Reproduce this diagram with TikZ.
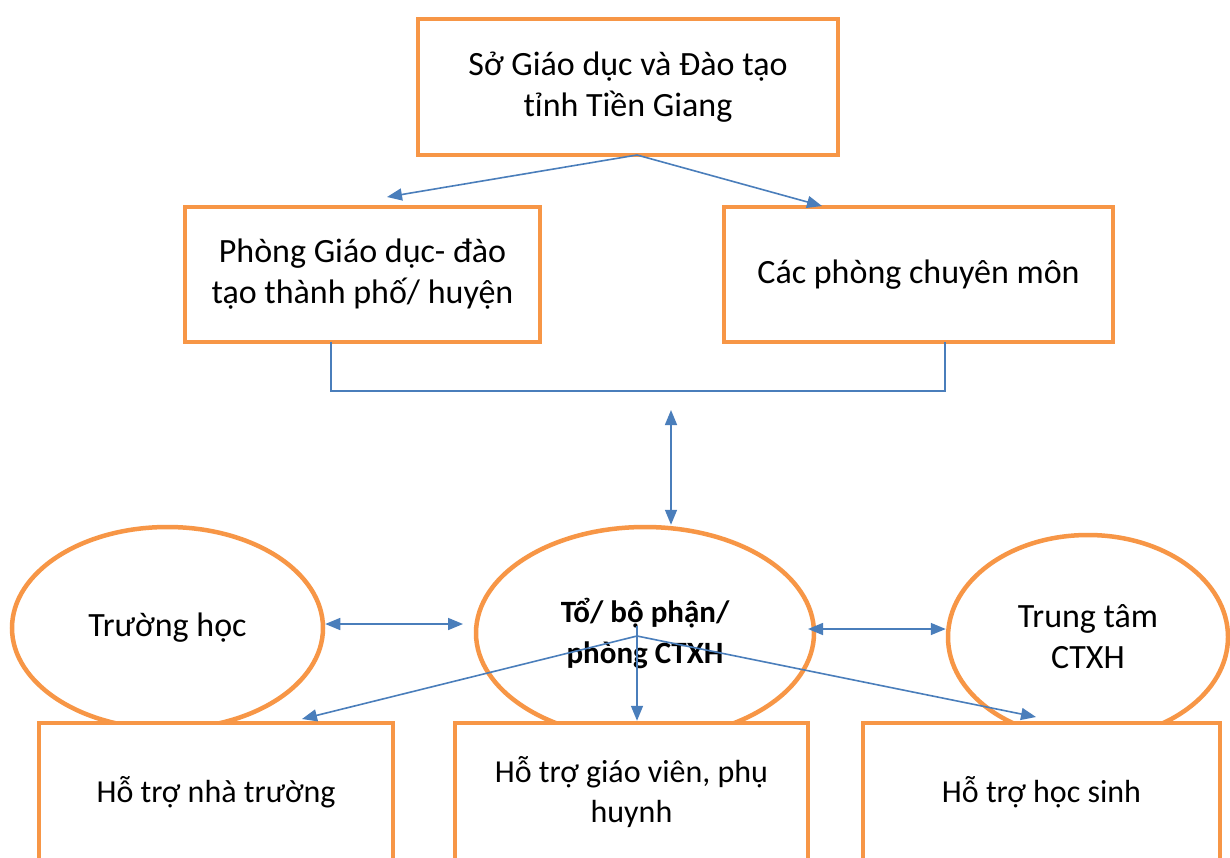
\documentclass[tikz,border=0pt]{standalone}
\usepackage{fontspec}
\setmainfont{Carlito}
\usetikzlibrary{arrows.meta,shapes.geometric}
\definecolor{boxorange}{HTML}{F79646}
\definecolor{linkblue}{HTML}{4A7EBB}
\tikzset{
  box/.style={draw=boxorange,line width=4.5pt,fill=white,rectangle,align=center,inner sep=0pt},
  oval/.style={draw=boxorange,line width=4.5pt,fill=white,ellipse,align=center,inner sep=0pt},
  link/.style={draw=linkblue,line width=1.6pt},
  tip/.style={-{Triangle[length=15pt,width=12pt]}},
  bitip/.style={{Triangle[length=15pt,width=12pt]}-{Triangle[length=15pt,width=12pt]}},
  bigtext/.style={font=\fontsize{34}{41}\selectfont},
  smalltext/.style={font=\fontsize{32}{40}\selectfont}
}
\begin{document}
\begin{tikzpicture}[x=1pt,y=-1pt]
        \clip (0,0) rectangle (1230,857);
        \fill[white] (0,0) rectangle (1230,857);

        % cap tinh va cap huyen
        \node[box,bigtext,minimum width=420pt,minimum height=136pt] (sgd) at (628,87)
         {Sở Giáo dục và Đào tạo\\tỉnh Tiền Giang};
        \node[box,bigtext,minimum width=355pt,minimum height=135pt] (pgd) at (362.5,274.5)
         {Phòng Giáo dục- đào\\tạo thành phố/ huyện};
        \node[box,bigtext,minimum width=389pt,minimum height=135pt] (pcm) at (918.5,274.5)
         {Các phòng chuyên môn};

        \coordinate (sgdfoot) at (637,155);
        \coordinate (pgdtip) at (387,197);
        \coordinate (pcmtip) at (822,206);
        \draw[link,tip] (sgdfoot) -- (pgdtip);
        \draw[link,tip] (sgdfoot) -- (pcmtip);

        \coordinate (pgdleg) at (331,342);
        \coordinate (pcmleg) at (945,342);
        \draw[link] (pgdleg) -- (331,391) -- (945,391) -- (pcmleg);

        % cap truong
        \node[oval,bigtext,minimum width=311pt,minimum height=202pt] (truong) at (167.5,628)
         {Trường học};
        \node[oval,font=\fontsize{31}{41}\selectfont\bfseries,minimum width=338pt,minimum height=212pt] (ctxh) at (645,633)
         {Tổ/ bộ phận/\\phòng CTXH};
        \node[oval,bigtext,minimum width=280pt,minimum height=204pt] (ttam) at (1088,637)
         {Trung tâm\\CTXH};

        \coordinate (bracketmid) at (671,410);
        \draw[link,bitip] (bracketmid) -- (ctxh.north -| bracketmid);
        \draw[link,bitip] (truong.east |- 0,624) -- (463,624);
        \draw[link,bitip] (808,629) -- (ttam.west |- 0,629);

        \node[box,smalltext,minimum width=354pt,minimum height=138pt] (htnt) at (216,792)
         {Hỗ trợ nhà trường};
        \node[box,smalltext,minimum width=353pt,minimum height=138pt] (htgv) at (631.5,792)
         {Hỗ trợ giáo viên, phụ\\huynh};
        \node[box,smalltext,minimum width=357pt,minimum height=138pt] (hths) at (1041.5,792)
         {Hỗ trợ học sinh};

        \coordinate (ctxhhub) at (637,636);
        \coordinate (htnttip) at (302,719);
        \coordinate (hthstip) at (1036,717);
        \draw[link] (ctxhhub) -- (637,626);
        \draw[link,tip] (637,626) -- (htgv.north -| 637,0);
        \draw[link,tip] (ctxhhub) -- (htnttip);
        \draw[link,tip] (ctxhhub) -- (hthstip);
\end{tikzpicture}
\end{document}
